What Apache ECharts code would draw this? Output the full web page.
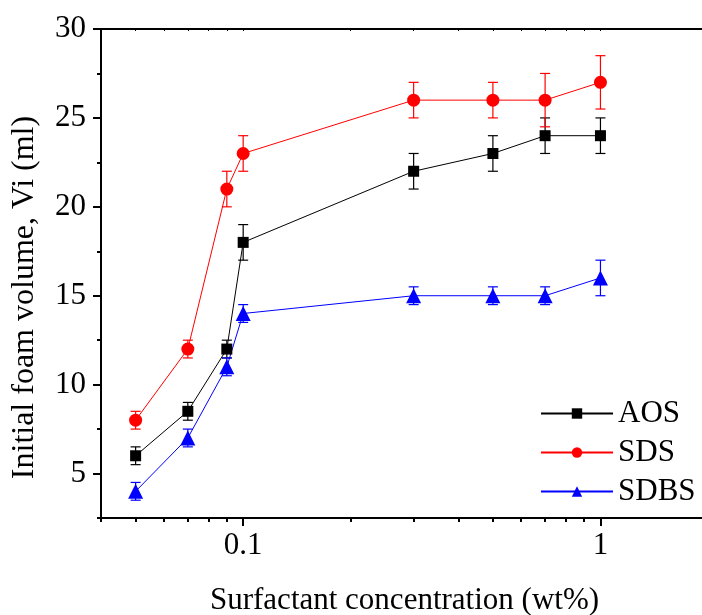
<!DOCTYPE html>
<html>
<head>
<meta charset="utf-8">
<script src="https://cdn.jsdelivr.net/npm/echarts@6/dist/echarts.min.js"></script>
<style>
html,body{margin:0;padding:0;background:#fff;overflow:hidden;}
#chart{width:720px;height:615px;}
</style>
</head>
<body>
<div id="chart"></div>
<script>
// Data
const concentrations = [0.05, 0.07, 0.09, 0.1, 0.3, 0.5, 0.7, 1];
const aosValues  = [6, 8.5, 12, 18, 22, 23, 24, 24];
const aosErrors  = [0.5, 0.5, 0.5, 1, 1, 1, 1, 1];
const sdsValues  = [8, 12, 21, 23, 26, 26, 26, 27];
const sdsErrors  = [0.5, 0.5, 1, 1, 1, 1, 1.5, 1.5];
const sdbsValues = [4, 7, 11, 14, 15, 15, 15, 16];
const sdbsErrors = [0.5, 0.5, 0.5, 0.5, 0.5, 0.5, 0.5, 1];
const seriesNames = ['AOS', 'SDS', 'SDBS'];

// Axis ticks
const xMajorTicks = [0.1, 1];
const xMinorTicks = [0.04, 0.05, 0.06, 0.07, 0.08, 0.09, 0.2, 0.3, 0.4, 0.5, 0.6, 0.7, 0.8, 0.9, 2];
const yMajorTicks = [5, 10, 15, 20, 25, 30];
const yMinorTicks = [2.5, 7.5, 12.5, 17.5, 22.5, 27.5];
const xMin = 0.04, xMax = 2, yMin = 2.5, yMax = 30;

const FONT = '"Liberation Serif", "Times New Roman", serif';
const FS = 31;
const colors = ['#000000', '#ff0000', '#0000ff'];
const symbols = ['rect', 'circle', 'triangle'];
const symbolSizes = [11, 13, 15];

function pairs(vals) { return concentrations.map((c, i) => [c, vals[i]]); }
function errData(vals, errs) { return concentrations.map((c, i) => [c, vals[i] - errs[i], vals[i] + errs[i]]); }

function errorSeries(vals, errs, color) {
  return {
    type: 'custom',
    xAxisIndex: 0, yAxisIndex: 0,
    z: 1,
    silent: true,
    data: errData(vals, errs),
    encode: { x: 0, y: [1, 2] },
    renderItem: function (params, api) {
      const x = api.value(0);
      const lo = api.coord([x, api.value(1)]);
      const hi = api.coord([x, api.value(2)]);
      const cap = 5;
      const st = { stroke: color, lineWidth: 1.2, fill: null };
      return {
        type: 'group',
        children: [
          { type: 'line', shape: { x1: lo[0], y1: lo[1], x2: hi[0], y2: hi[1] }, style: st },
          { type: 'line', shape: { x1: lo[0] - cap, y1: lo[1], x2: lo[0] + cap, y2: lo[1] }, style: st },
          { type: 'line', shape: { x1: hi[0] - cap, y1: hi[1], x2: hi[0] + cap, y2: hi[1] }, style: st }
        ]
      };
    }
  };
}

function lineSeries(name, vals, idx) {
  return {
    name: name,
    type: 'line',
    xAxisIndex: 0, yAxisIndex: 0,
    z: 3,
    data: pairs(vals),
    symbol: symbols[idx],
    symbolSize: symbolSizes[idx],
    showAllSymbol: true,
    color: colors[idx],
    itemStyle: { color: colors[idx] },
    lineStyle: { color: colors[idx], width: 1 },
    emphasis: { disabled: true },
    animation: false
  };
}

const gridRect = { left: 101, top: 29, width: 607, height: 489, containLabel: false, outerBoundsMode: 'none' };

const option = {
  animation: false,
  backgroundColor: '#ffffff',
  textStyle: { fontFamily: FONT, color: '#000' },
  grid: [
    Object.assign({}, gridRect),
    Object.assign({}, gridRect),
    Object.assign({}, gridRect, { top: 53 })
  ],
  legend: {
    orient: 'vertical',
    left: 535,
    top: 393,
    itemWidth: 72,
    itemHeight: 13,
    itemGap: 8,
    data: seriesNames,
    textStyle: { fontFamily: FONT, fontSize: FS, color: '#000', lineHeight: 31 },
    selectedMode: false
  },
  xAxis: [
    {
      gridIndex: 0, type: 'log', logBase: 10, min: xMin, max: xMax, position: 'bottom',
      name: 'Surfactant concentration (wt%)', nameLocation: 'middle', nameGap: 67,
      nameTextStyle: { fontFamily: FONT, fontSize: FS, color: '#000' },
      axisLine: { show: true, lineStyle: { color: '#000', width: 2 } },
      axisTick: { show: true, inside: false, length: 8, customValues: xMajorTicks, lineStyle: { color: '#000', width: 2 } },
      axisLabel: { show: true, customValues: xMajorTicks, margin: 12, fontFamily: FONT, fontSize: FS, color: '#000',
        formatter: function (v) { return String(v); } },
      splitLine: { show: false },
      minorTick: { show: false }
    },
    {
      gridIndex: 0, type: 'log', logBase: 10, min: xMin, max: xMax, position: 'top',
      axisLine: { show: true, lineStyle: { color: '#000', width: 2 } },
      axisTick: { show: true, inside: true, length: 2, customValues: xMajorTicks.concat(xMinorTicks), lineStyle: { color: '#000', width: 1 } },
      axisLabel: { show: false },
      splitLine: { show: false }
    },
    {
      gridIndex: 1, type: 'log', logBase: 10, min: xMin, max: xMax, position: 'bottom',
      axisLine: { show: false },
      axisTick: { show: true, inside: false, length: 4, customValues: xMinorTicks, lineStyle: { color: '#000', width: 2 } },
      axisLabel: { show: false },
      splitLine: { show: false }
    },
    {
      gridIndex: 2, type: 'log', logBase: 10, min: xMin, max: xMax, show: false
    }
  ],
  yAxis: [
    {
      gridIndex: 0, type: 'value', min: yMin, max: yMax, position: 'left',
      axisLine: { show: true, lineStyle: { color: '#000', width: 2 } },
      axisTick: { show: true, inside: false, length: 8, customValues: yMajorTicks, lineStyle: { color: '#000', width: 2 } },
      axisLabel: { show: true, customValues: yMajorTicks, margin: 15, fontFamily: FONT, fontSize: FS, color: '#000' },
      splitLine: { show: false }
    },
    {
      gridIndex: 1, type: 'value', min: yMin, max: yMax, position: 'left',
      axisLine: { show: false },
      axisTick: { show: true, inside: false, length: 4, customValues: yMinorTicks, lineStyle: { color: '#000', width: 2 } },
      axisLabel: { show: false },
      splitLine: { show: false }
    },
    {
      gridIndex: 2, type: 'value', min: yMin, max: yMax, position: 'left',
      name: 'Initial foam volume, Vi (ml)', nameLocation: 'middle', nameGap: 60, nameRotate: 90,
      nameTextStyle: { fontFamily: FONT, fontSize: 32, color: '#000' },
      axisLine: { show: false }, axisTick: { show: false }, axisLabel: { show: false }, splitLine: { show: false }
    }
  ],
  series: [
    errorSeries(aosValues, aosErrors, colors[0]),
    errorSeries(sdsValues, sdsErrors, colors[1]),
    errorSeries(sdbsValues, sdbsErrors, colors[2]),
    lineSeries(seriesNames[0], aosValues, 0),
    lineSeries(seriesNames[1], sdsValues, 1),
    lineSeries(seriesNames[2], sdbsValues, 2)
  ]
};

const chart = echarts.init(document.getElementById('chart'), null, { renderer: 'canvas' });
chart.setOption(option);
</script>
</body>
</html>
